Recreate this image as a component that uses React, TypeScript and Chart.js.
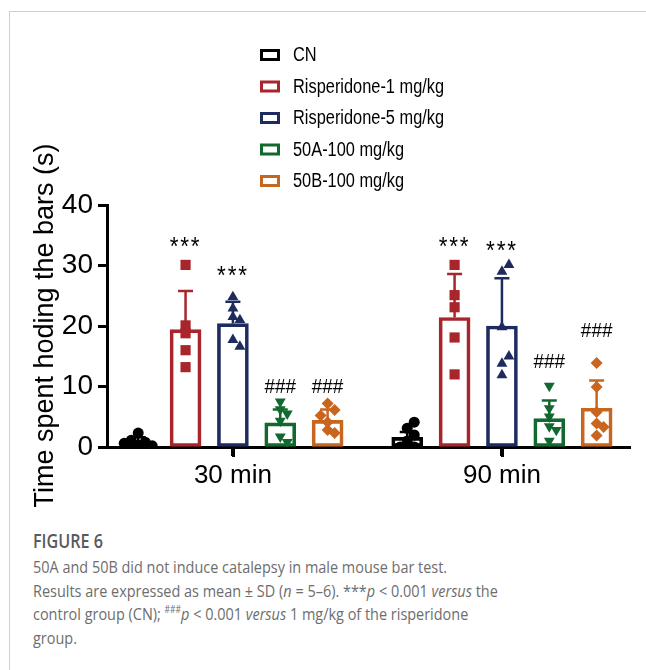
import React, { useEffect, useRef } from "react";
import { Chart, registerables } from "chart.js";
Chart.register(...registerables);

// ---------- data ----------
const timepoints = ["30 min", "90 min"];
const groupNames = ["CN", "Risperidone-1 mg/kg", "Risperidone-5 mg/kg", "50A-100 mg/kg", "50B-100 mg/kg"];
const groupColors = ["#000000", "#A8262B", "#1E2B5E", "#12692F", "#C8651F"];
const groupPointStyles = ["circle", "rect", "triangle", "triangle", "rectRot"];
const groupPointRotation = [0, 0, 0, 180, 0];
const groupPointRadius = [5.5, 7.2, 6.3, 6.3, 6];

// means [30 min, 90 min]
const meanCN = [0.9, 1.6];
const meanR1 = [19.4, 21.4];
const meanR5 = [20.4, 20.0];
const mean50A = [4.0, 4.7];
const mean50B = [4.4, 6.4];

// SD [30 min, 90 min]
const sdCN = [0.7, 0.9];
const sdR1 = [6.4, 7.2];
const sdR5 = [3.6, 7.9];
const sd50A = [2.2, 3.0];
const sd50B = [1.8, 4.6];

// individual animals
const ptsCN30 = [0.3, 0.8, 1.1, 2.3, 0.2, 0.6];
const ptsCN90 = [3.1, 4.1, 2.0, 1.0, 0.0, 0.0];
const ptsR1_30 = [30.1, 20.1, 18.8, 16.0, 13.2];
const ptsR1_90 = [30.1, 25.1, 23.1, 18.1, 12.0];
const ptsR5_30 = [24.8, 22.9, 21.5, 21.0, 17.7, 16.6];
const ptsR5_90 = [29.0, 30.1, 19.8, 13.8, 15.0, 11.9];
const pts50A_30 = [4.3, 7.5, 6.2, 5.5, 1.7, 0.8];
const pts50A_90 = [10.1, 3.4, 6.4, 5.0, 2.8, 1.0];
const pts50B_30 = [4.1, 7.2, 6.1, 5.2, 2.8, 2.3];
const pts50B_90 = [13.9, 9.9, 5.8, 3.9, 3.3, 1.9];

// significance marks and the value at which they sit
const sigCN = ["", ""];
const sigR1 = ["***", "***"];
const sigR5 = ["***", "***"];
const sig50A = ["###", "###"];
const sig50B = ["###", "###"];
const sigAtCN = [0, 0];
const sigAtR1 = [31.7, 31.7];
const sigAtR5 = [27.0, 31.1];
const sigAt50A = [8.85, 13.1];
const sigAt50B = [8.85, 18.2];

const yTicks = [0, 10, 20, 30, 40];
const yTitle = "Time spent hoding the bars (s)";

// ---------- derived tables ----------
const meanSeries = [meanCN, meanR1, meanR5, mean50A, mean50B];
const sdSeries = [sdCN, sdR1, sdR5, sd50A, sd50B];
const ptsSeries = [
  [ptsCN30, ptsCN90],
  [ptsR1_30, ptsR1_90],
  [ptsR5_30, ptsR5_90],
  [pts50A_30, pts50A_90],
  [pts50B_30, pts50B_90],
];
const sigSeries = [sigCN, sigR1, sigR5, sig50A, sig50B];
const sigAtSeries = [sigAtCN, sigAtR1, sigAtR5, sigAt50A, sigAt50B];

// x axis: time points sit at 0 and 1
const X_MIN = -0.468;
const X_MAX = 1.476;
const SLOT = 0.176;
const FONT = "'Liberation Sans', Arial, Helvetica, sans-serif";
const slotCenter = (g: number, i: number) => g + (i - (groupNames.length - 1) / 2) * SLOT;

function swarm(values: number[], center: number, step: number, gap: number) {
  const placed: { x: number; y: number }[] = [];
  return values.map((v) => {
    for (let k = 0; k < 12; k++) {
      const off = k === 0 ? 0 : (k % 2 ? 1 : -1) * Math.ceil(k / 2);
      const x = center + off * step;
      const hit = placed.some((p) => Math.abs(p.x - x) < step * 0.9 && Math.abs(p.y - v) < gap);
      if (!hit) {
        placed.push({ x, y: v });
        return { x, y: v };
      }
    }
    placed.push({ x: center, y: v });
    return { x: center, y: v };
  });
}

const errorBarPlugin = {
  id: "errorBars",
  afterDatasetDraw(chart: any, args: any) {
    const meta = args.meta;
    if (meta.type !== "bar") return;
    const i = args.index;
    const ctx = chart.ctx;
    const ys = chart.scales.y;
    ctx.save();
    ctx.strokeStyle = groupColors[i];
    ctx.lineWidth = 2.5;
    meta.data.forEach((bar: any, j: number) => {
      const y0 = ys.getPixelForValue(meanSeries[i][j]);
      const y1 = ys.getPixelForValue(meanSeries[i][j] + sdSeries[i][j]);
      ctx.beginPath();
      ctx.moveTo(bar.x, y0);
      ctx.lineTo(bar.x, y1);
      ctx.moveTo(bar.x - 7.5, y1);
      ctx.lineTo(bar.x + 7.5, y1);
      ctx.stroke();
    });
    ctx.restore();
  },
};

const xTickPlugin = {
  id: "xTickMarks",
  afterDraw(chart: any) {
    const ctx = chart.ctx;
    const xs = chart.scales.x;
    const bottom = chart.chartArea.bottom;
    ctx.save();
    ctx.strokeStyle = "#000";
    ctx.lineWidth = 3;
    timepoints.forEach((_, g) => {
      const x = Math.round(xs.getPixelForValue(g)) + 0.5;
      ctx.beginPath();
      ctx.moveTo(x, bottom);
      ctx.lineTo(x, bottom + 10);
      ctx.stroke();
    });
    ctx.restore();
  },
};

const sigPlugin = {
  id: "sigMarks",
  afterDatasetsDraw(chart: any) {
    const ctx = chart.ctx;
    const ys = chart.scales.y;
    ctx.save();
    ctx.fillStyle = "#000";
    ctx.textAlign = "center";
    ctx.textBaseline = "alphabetic";
    chart.data.datasets.forEach((ds: any, i: number) => {
      if (ds.type !== "bar") return;
      const meta = chart.getDatasetMeta(i);
      meta.data.forEach((bar: any, j: number) => {
        const s = sigSeries[i][j];
        if (!s) return;
        const y = ys.getPixelForValue(sigAtSeries[i][j]);
        ctx.save();
        ctx.translate(bar.x, y);
        ctx.scale(0.9, 1);
        if (s[0] === "*") {
          ctx.font = `25px ${FONT}`;
          (ctx as any).letterSpacing = "2px";
        } else {
          ctx.font = `21px ${FONT}`;
          (ctx as any).letterSpacing = "0px";
        }
        ctx.fillText(s, 0, 0);
        ctx.restore();
      });
    });
    ctx.restore();
  },
};

const legendPlugin = {
  id: "vLegend",
  afterDraw(chart: any) {
    const ctx = chart.ctx;
    ctx.save();
    groupNames.forEach((name, i) => {
      const cy = 55 + i * 31.5;
      ctx.strokeStyle = groupColors[i];
      ctx.lineWidth = 3;
      ctx.strokeRect(261.5, cy - 4.5, 17, 9);
      ctx.save();
      ctx.translate(293, cy);
      ctx.scale(0.84, 1);
      ctx.fillStyle = "#000";
      ctx.font = `19.5px ${FONT}`;
      ctx.textBaseline = "middle";
      ctx.textAlign = "left";
      ctx.fillText(name, 0, 1);
      ctx.restore();
    });
    ctx.restore();
  },
};

function ChartView() {
  const ref = useRef<HTMLCanvasElement | null>(null);
  useEffect(() => {
    if (!ref.current) return;
    Chart.defaults.font.family = FONT;
    const barDatasets = groupNames.map((name, i) => ({
      type: "bar" as const,
      label: name,
      data: timepoints.map((_, g) => ({ x: slotCenter(g, i), y: meanSeries[i][g] })),
      borderColor: groupColors[i],
      backgroundColor: "rgba(255,255,255,0)",
      borderWidth: 3,
      borderSkipped: false,
      grouped: false,
      barThickness: 31,
      xAxisID: "x",
      yAxisID: "y",
      order: 2,
    }));
    const scatterDatasets = groupNames.map((name, i) => {
      const data: { x: number; y: number }[] = [];
      timepoints.forEach((_, g) => {
        data.push(...swarm(ptsSeries[i][g], slotCenter(g, i), 0.026, 1.2));
      });
      return {
        type: "scatter" as const,
        label: name + " points",
        data,
        pointStyle: groupPointStyles[i],
        rotation: groupPointRotation[i],
        pointRadius: groupPointRadius[i],
        backgroundColor: groupColors[i],
        borderColor: groupColors[i],
        borderWidth: 0,
        showLine: false,
        xAxisID: "x",
        yAxisID: "y",
        order: 1,
      };
    });
    const chart = new Chart(ref.current, {
      type: "bar",
      data: { datasets: [...barDatasets, ...scatterDatasets] as any },
      options: {
        responsive: false,
        animation: false,
        devicePixelRatio: 1,
        events: [],
        layout: { padding: { left: 0, right: 16, top: 205, bottom: 0 } },
        plugins: { legend: { display: false }, tooltip: { enabled: false } },
        scales: {
          x: {
            type: "linear",
            min: X_MIN,
            max: X_MAX,
            bounds: "data",
            offset: false,
            afterBuildTicks: (s: any) => { s.ticks = timepoints.map((_, g) => ({ value: g })); },
            grid: { display: true, offset: false, drawOnChartArea: false, tickLength: 9, tickWidth: 3, tickColor: "#000" },
            border: { display: true, color: "#000", width: 3 },
            ticks: {
              color: "#000",
              font: { size: 26 },
              padding: 4,
              maxRotation: 0,
              autoSkip: false,
              callback: (v: any) => timepoints[Math.round(Number(v))] ?? "",
            },
            afterFit: (s: any) => { s.height = 60; },
          },
          y: {
            type: "linear",
            min: 0,
            max: 40,
            afterBuildTicks: (s: any) => { s.ticks = yTicks.map((v) => ({ value: v })); },
            grid: { display: true, offset: false, drawOnChartArea: false, tickLength: 9, tickWidth: 3, tickColor: "#000" },
            border: { display: true, color: "#000", width: 3 },
            ticks: { color: "#000", font: { size: 28 }, padding: 5 },
            title: { display: true, text: yTitle, color: "#000", font: { size: 27 }, padding: { top: 29, bottom: 0 } },
            afterFit: (s: any) => { s.width = 107; },
          },
        },
      },
      plugins: [errorBarPlugin, sigPlugin, legendPlugin, xTickPlugin],
    });
    return () => chart.destroy();
  }, []);
  return (
    <canvas
      ref={ref}
      width={646}
      height={507}
      style={{ position: "absolute", left: 0, top: 0, width: 646, height: 507, display: "block" }}
    />
  );
}

export default function App() {
  const body: React.CSSProperties = { whiteSpace: "nowrap" };
  return (
    <div style={{ position: "absolute", left: 0, top: 0, width: 646, height: 670, overflow: "hidden", background: "#fff" }}>
      <div
        style={{
          position: "absolute",
          left: 9,
          top: 11,
          width: 700,
          height: 700,
          borderTop: "1.5px solid #cfcfcf",
          borderLeft: "1.5px solid #cfcfcf",
        }}
      />
      <ChartView />
      <div
        style={{
          position: "absolute",
          left: 33,
          top: 529,
          fontFamily: "'Open Sans', sans-serif",
          color: "#6d6d6d",
          transform: "scaleX(0.85)",
          transformOrigin: "left top",
        }}
      >
        <div style={{ fontWeight: 600, fontSize: 19, lineHeight: "24px", color: "#5a5a5a" }}>FIGURE 6</div>
        <div style={{ fontSize: 17, lineHeight: "23.5px", marginTop: 2 }}>
          <div style={body}>50A and 50B did not induce catalepsy in male mouse bar test.</div>
          <div style={body}>
            Results are expressed as mean ± SD (<i>n</i> = 5–6). ***<i>p</i> &lt; 0.001 <i>versus</i> the
          </div>
          <div style={body}>
            control group (CN); <sup style={{ fontSize: 10, lineHeight: 0 }}>###</sup>
            <i>p</i> &lt; 0.001 <i>versus</i> 1 mg/kg of the risperidone
          </div>
          <div style={body}>group.</div>
        </div>
      </div>
    </div>
  );
}
